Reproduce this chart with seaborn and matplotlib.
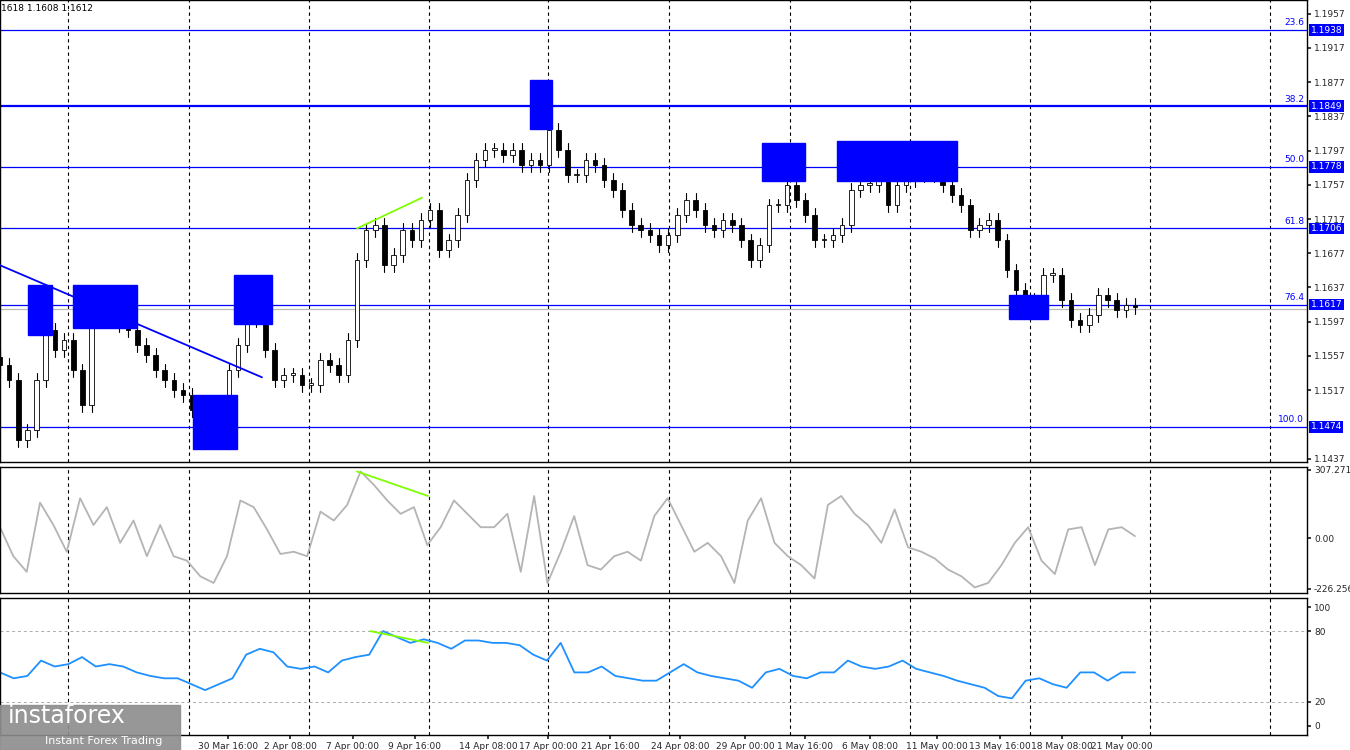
import matplotlib
matplotlib.use("Agg")
import matplotlib.pyplot as plt
import numpy as np
import seaborn as sns
from matplotlib.patches import Rectangle

sns.set_theme(style="white")
plt.rcParams["font.family"] = ["DejaVu Sans"]

# closing prices left to right
closes = [
    1.1546, 1.1529, 1.1459, 1.1470, 1.1529, 1.1587, 1.1564, 1.1576, 1.1540, 1.1500,
    1.1611, 1.1599, 1.1611, 1.1593, 1.1587, 1.1570, 1.1558, 1.1540, 1.1529, 1.1517,
    1.1511, 1.1494, 1.1465, 1.1470, 1.1494, 1.1540, 1.1570, 1.1599, 1.1611, 1.1564,
    1.1529, 1.1535, 1.1535, 1.1523, 1.1523, 1.1552, 1.1546, 1.1535, 1.1576, 1.1669,
    1.1704, 1.1710, 1.1663, 1.1675, 1.1704, 1.1692, 1.1716, 1.1728, 1.1681, 1.1692,
    1.1722, 1.1763, 1.1786, 1.1798, 1.1798, 1.1792, 1.1798, 1.1780, 1.1786, 1.1780,
    1.1821, 1.1798, 1.1768, 1.1768, 1.1786, 1.1780, 1.1763, 1.1751, 1.1728, 1.1710,
    1.1704, 1.1698, 1.1687, 1.1698, 1.1722, 1.1739, 1.1728, 1.1710, 1.1704, 1.1716,
    1.1710, 1.1692, 1.1669, 1.1687, 1.1733, 1.1733, 1.1757, 1.1739, 1.1722, 1.1692,
    1.1692, 1.1698, 1.1710, 1.1751, 1.1757, 1.1757, 1.1768, 1.1733, 1.1757, 1.1763,
    1.1775, 1.1768, 1.1780, 1.1757, 1.1745, 1.1733, 1.1704, 1.1710, 1.1716, 1.1692,
    1.1657, 1.1634, 1.1622, 1.1622, 1.1652, 1.1652, 1.1622, 1.1599, 1.1593, 1.1605,
    1.1628, 1.1622, 1.1611, 1.1617, 1.1614,
]

# CCI and RSI readings, evenly spaced over the same span
cci = [
    50, -80, -150, 160, 60, -60, 180, 60, 140, -20, 80, -80, 60, -80, -100, -170,
    -200, -80, 170, 140, 40, -70, -60, -80, 120, 80, 150, 300, 240, 170, 110, 140,
    -30, 50, 170, 110, 50, 50, 110, -150, 190, -200, -60, 100, -120, -140, -80, -60,
    -100, 100, 180, 60, -60, -20, -80, -200, 80, 180, -20, -80, -120, -180, 150, 190,
    110, 60, -20, 130, -40, -60, -90, -140, -170, -220, -200, -120, -20, 50, -100,
    -160, 40, 50, -120, 40, 50, 10,
]
rsi = [
    45, 40, 42, 55, 50, 52, 58, 50, 52, 50, 45, 42, 40, 40, 35, 30, 35, 40, 60, 65,
    62, 50, 48, 50, 45, 55, 58, 60, 80, 75, 70, 73, 70, 65, 72, 72, 70, 70, 68, 60,
    55, 70, 45, 45, 50, 42, 40, 38, 38, 45, 52, 45, 42, 40, 38, 32, 45, 48, 42, 40,
    45, 45, 55, 50, 48, 50, 55, 48, 45, 42, 38, 35, 32, 25, 23, 38, 40, 35, 32, 45,
    45, 38, 45, 45,
]

fib_levels = [1.1938, 1.1849, 1.1778, 1.1706, 1.1617, 1.1474]
fib_names = ["23.6", "38.2", "50.0", "61.8", "76.4", "100.0"]
price_ticks = [1.1957, 1.1917, 1.1877, 1.1837, 1.1797, 1.1757, 1.1717, 1.1677,
               1.1637, 1.1597, 1.1557, 1.1517, 1.1437]
time_labels = ["30 Mar 16:00", "2 Apr 08:00", "7 Apr 00:00", "9 Apr 16:00",
               "14 Apr 08:00", "17 Apr 00:00", "21 Apr 16:00", "24 Apr 08:00",
               "29 Apr 00:00", "1 May 16:00", "6 May 08:00", "11 May 00:00",
               "13 May 16:00", "18 May 08:00", "21 May 00:00"]

W, H = 1350, 750
PLOT_R = 1307
PX = 1135 / (len(closes) - 1)  # pixels per candle
xmax = PLOT_R / PX
label_px = [228, 290, 353, 415, 488, 548, 610, 680, 745, 805, 870, 937, 1000, 1062, 1122]
grid_px = [68, 189, 309, 429, 548, 669, 790, 910, 1030, 1150, 1270]

fig = plt.figure(figsize=(W / 100, H / 100), dpi=100)


def px(v):
    return v / PX


def panel(top, bottom):
    ax = fig.add_axes([0, 1 - bottom / H, PLOT_R / W, (bottom - top) / H])
    ax.set_xlim(0, xmax)
    for s in ax.spines.values():
        s.set_color("black")
        s.set_linewidth(1)
    ax.yaxis.tick_right()
    ax.tick_params(axis="y", labelsize=6.5, length=3, pad=2, direction="out", right=True)
    ax.set_xticks([])
    for g in grid_px:
        ax.axvline(px(g), color="black", ls=(0, (3, 3)), lw=0.8, zorder=0)
    return ax


ax = panel(0, 462)
ax.set_ylim(1.14330, 1.19731)
ax.set_yticks(price_ticks)
ax.set_yticklabels([f"{t:.4f}" for t in price_ticks])

opens = [closes[0] + 0.0010] + closes[:-1]
for i, (o, c) in enumerate(zip(opens, closes)):
    hi, lo = max(o, c) + 0.0008, min(o, c) - 0.0008
    ax.plot([i, i], [lo, hi], color="black", lw=0.8, zorder=3)
    ax.add_patch(Rectangle((i - 0.25, min(o, c)), 0.5, max(abs(c - o), 0.0002),
                           facecolor="white" if c >= o else "black",
                           edgecolor="black", lw=0.6, zorder=4))

for lvl, name in zip(fib_levels, fib_names):
    lw = 1.6 if name == "38.2" else 0.9
    ax.axhline(lvl, color="#0000ff", lw=lw, zorder=2)
    ax.text(xmax - 0.3, lvl + 0.0003, name, color="#0000ff", fontsize=6.5, ha="right", va="bottom")
    ax.text(xmax + 0.4, lvl, f"{lvl:.4f}", color="white", fontsize=6.5, va="center",
            ha="left", clip_on=False, zorder=10,
            bbox=dict(boxstyle="square,pad=0.15", fc="#0000ff", ec="none"))
ax.axhline(1.1612, color="#bbbbbb", lw=0.9, zorder=1)

# signal boxes: left px, right px, low, high
boxes = [(28, 52, 1.1582, 1.1640), (73, 137, 1.1590, 1.1640), (193, 237, 1.1448, 1.1511),
         (234, 272, 1.1594, 1.1652), (530, 552, 1.1822, 1.1880), (762, 805, 1.1762, 1.1806),
         (837, 957, 1.1762, 1.1808), (1009, 1048, 1.1600, 1.1628)]
for x0, x1, lo, hi in boxes:
    ax.add_patch(Rectangle((px(x0), lo), px(x1 - x0), hi - lo, color="#0000ff", zorder=5))
ax.plot([0, px(262)], [1.1663, 1.1532], color="#0000ff", lw=1.3, zorder=6)
ax.plot([px(357), px(422)], [1.1706, 1.1742], color="#7fff00", lw=1.3, zorder=6)
ax.text(0.1, 1.1963, "1618 1.1608 1.1612", fontsize=6.5, va="center", color="black")

n = len(closes) - 1
ax2 = panel(467, 593)
ax2.set_ylim(-245, 320)
sns.lineplot(x=np.linspace(0, n, len(cci)), y=cci, ax=ax2, color="#b4b4b4", lw=1.3)
ax2.set_yticks([307.2712, 0, -226.256])
ax2.set_yticklabels(["307.2712", "0.00", "-226.256"])
ax2.plot([px(357), px(428)], [300, 190], color="#7fff00", lw=1.3)

ax3 = panel(598, 735)
ax3.set_ylim(-8, 108)
sns.lineplot(x=np.linspace(0, n, len(rsi)), y=rsi, ax=ax3, color="#1e90ff", lw=1.3)
for lv in (20, 80):
    ax3.axhline(lv, color="#aaaaaa", ls=(0, (3, 3)), lw=0.7)
ax3.set_yticks([100, 80, 20, 0])
ax3.plot([px(370), px(428)], [80, 70], color="#7fff00", lw=1.3)
ax3.set_xticks([px(p) for p in label_px])
ax3.set_xticklabels(time_labels, fontsize=6.5)
ax3.tick_params(axis="x", length=3, pad=2, bottom=True)

fig.patches.append(Rectangle((0, 0), 180 / W, 45 / H, transform=fig.transFigure,
                             color="#8c8c8c", alpha=0.9, zorder=20))
fig.text(8 / W, 22 / H, "instaforex", fontsize=17, color="white", va="bottom", zorder=21)
fig.text(45 / W, 4 / H, "Instant Forex Trading", fontsize=8, color="white", va="bottom", zorder=21)

fig.savefig("out.png", dpi=100, facecolor="white")
